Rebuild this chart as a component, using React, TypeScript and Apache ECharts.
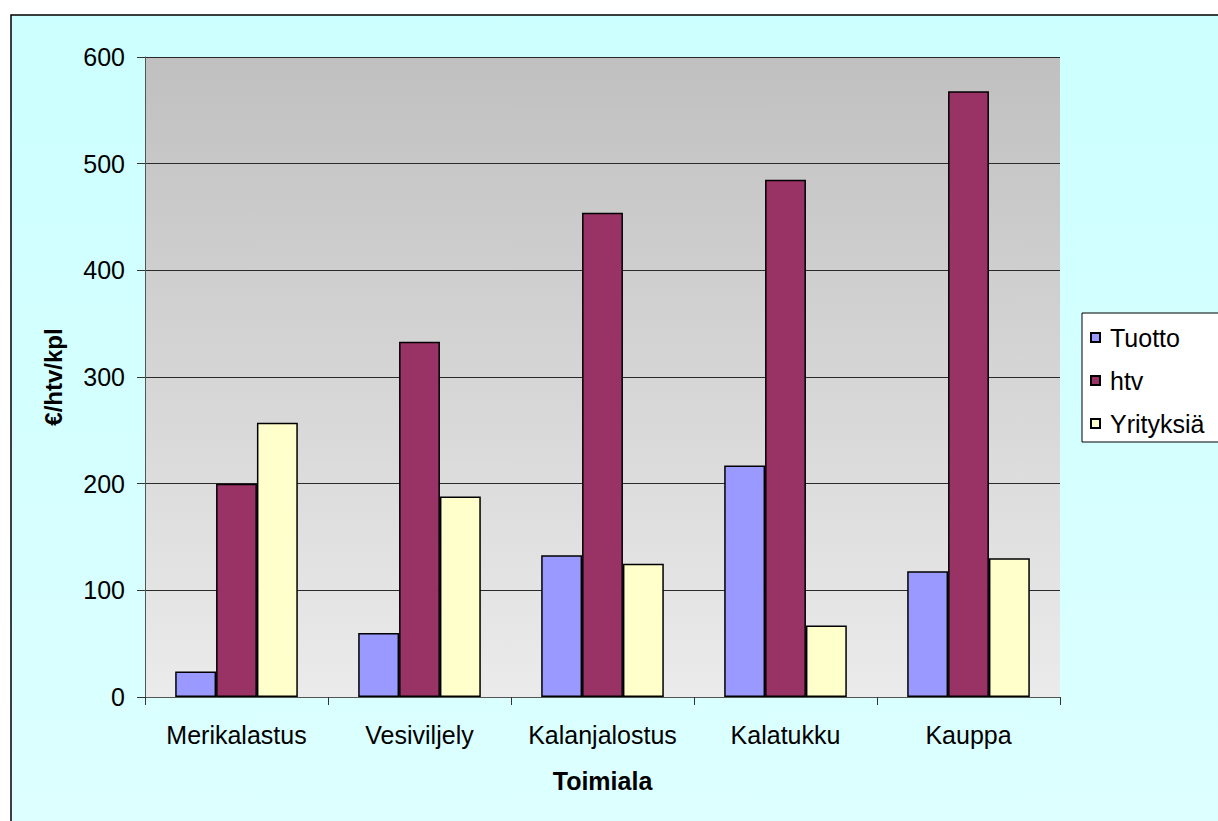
import React, { useEffect, useRef } from "react";
import * as echarts from "echarts";

const categories = ["Merikalastus", "Vesiviljely", "Kalanjalostus", "Kalatukku", "Kauppa"];
const tuotto = [24, 60, 133, 217, 118];
const htv = [200, 333, 454, 485, 568];
const yrityksia = [257, 188, 125, 67, 130];
const seriesNames = ["Tuotto", "htv", "Yrityksiä"];
const seriesColors = ["#9999FF", "#993366", "#FFFFCC"];
const yTicks = { min: 0, max: 600, interval: 100 };

const FONT = "'Liberation Sans', Arial, sans-serif";

export default function App() {
  const ref = useRef<HTMLDivElement>(null);
  useEffect(() => {
    if (!ref.current) return;
    const chart = echarts.init(ref.current, null, { renderer: "svg" });
    const values = [tuotto, htv, yrityksia];
    chart.setOption({
      animation: false,
      backgroundColor: "#ffffff",
      textStyle: { fontFamily: FONT },
      graphic: [
        {
          type: "rect",
          z: -100,
          silent: true,
          shape: { x: 11, y: 15, width: 1260, height: 860 },
          style: {
            fill: new echarts.graphic.LinearGradient(0, 0, 0, 1, [
              { offset: 0, color: "#CCFFFF" },
              { offset: 1, color: "#DEFFFF" },
            ]),
            stroke: "#000000",
            lineWidth: 1.5,
          },
        },
      ],
      grid: {
        left: 145,
        top: 57,
        width: 915,
        height: 640,
        show: true,
        borderWidth: 0,
        backgroundColor: new echarts.graphic.LinearGradient(0, 0, 0, 1, [
          { offset: 0, color: "#C0C0C0" },
          { offset: 1, color: "#EBEBEB" },
        ]),
      },
      legend: {
        orient: "vertical",
        left: 1082,
        top: 313,
        itemWidth: 9,
        itemHeight: 9,
        itemGap: 18,
        padding: [12, 60, 6, 8],
        backgroundColor: "#ffffff",
        borderColor: "#000000",
        borderWidth: 1,
        borderRadius: 0,
        icon: "rect",
        data: seriesNames,
        textStyle: { fontSize: 25, color: "#000", fontFamily: FONT, padding: [0, 0, 0, 5] },
      },
      xAxis: {
        type: "category",
        data: categories,
        name: "Toimiala",
        nameLocation: "middle",
        nameGap: 71,
        nameTextStyle: { fontSize: 25, fontWeight: "bold", color: "#000", fontFamily: FONT },
        axisLine: { show: true, lineStyle: { color: "#555555", width: 1 } },
        axisTick: { show: true, length: 8, lineStyle: { color: "#333333" } },
        axisLabel: { fontSize: 25, color: "#000", margin: 25, fontFamily: FONT, interval: 0, hideOverlap: false },
      },
      yAxis: {
        type: "value",
        min: yTicks.min,
        max: yTicks.max,
        interval: yTicks.interval,
        name: "€/htv/kpl",
        nameLocation: "middle",
        nameGap: 80,
        nameTextStyle: { fontSize: 24, fontWeight: "bold", color: "#000", fontFamily: FONT },
        axisLine: { show: true, lineStyle: { color: "#555555", width: 1 } },
        axisTick: { show: true, length: 8, lineStyle: { color: "#333333" } },
        axisLabel: { fontSize: 25, color: "#000", margin: 20, fontFamily: FONT },
        splitLine: { show: true, lineStyle: { color: "#2a2a2a", width: 1 } },
      },
      series: seriesNames.map((name, i) => ({
        name,
        type: "bar",
        data: values[i],
        barGap: "0%",
        barCategoryGap: "33%",
        itemStyle: { color: seriesColors[i], borderColor: "#000000", borderWidth: 1.5 },
      })),
    });
    return () => chart.dispose();
  }, []);
  return (
    <div style={{ position: "fixed", left: 0, top: 0, width: 1218, height: 821, overflow: "hidden" }}>
      <div ref={ref} style={{ width: 1218, height: 821 }} />
    </div>
  );
}
